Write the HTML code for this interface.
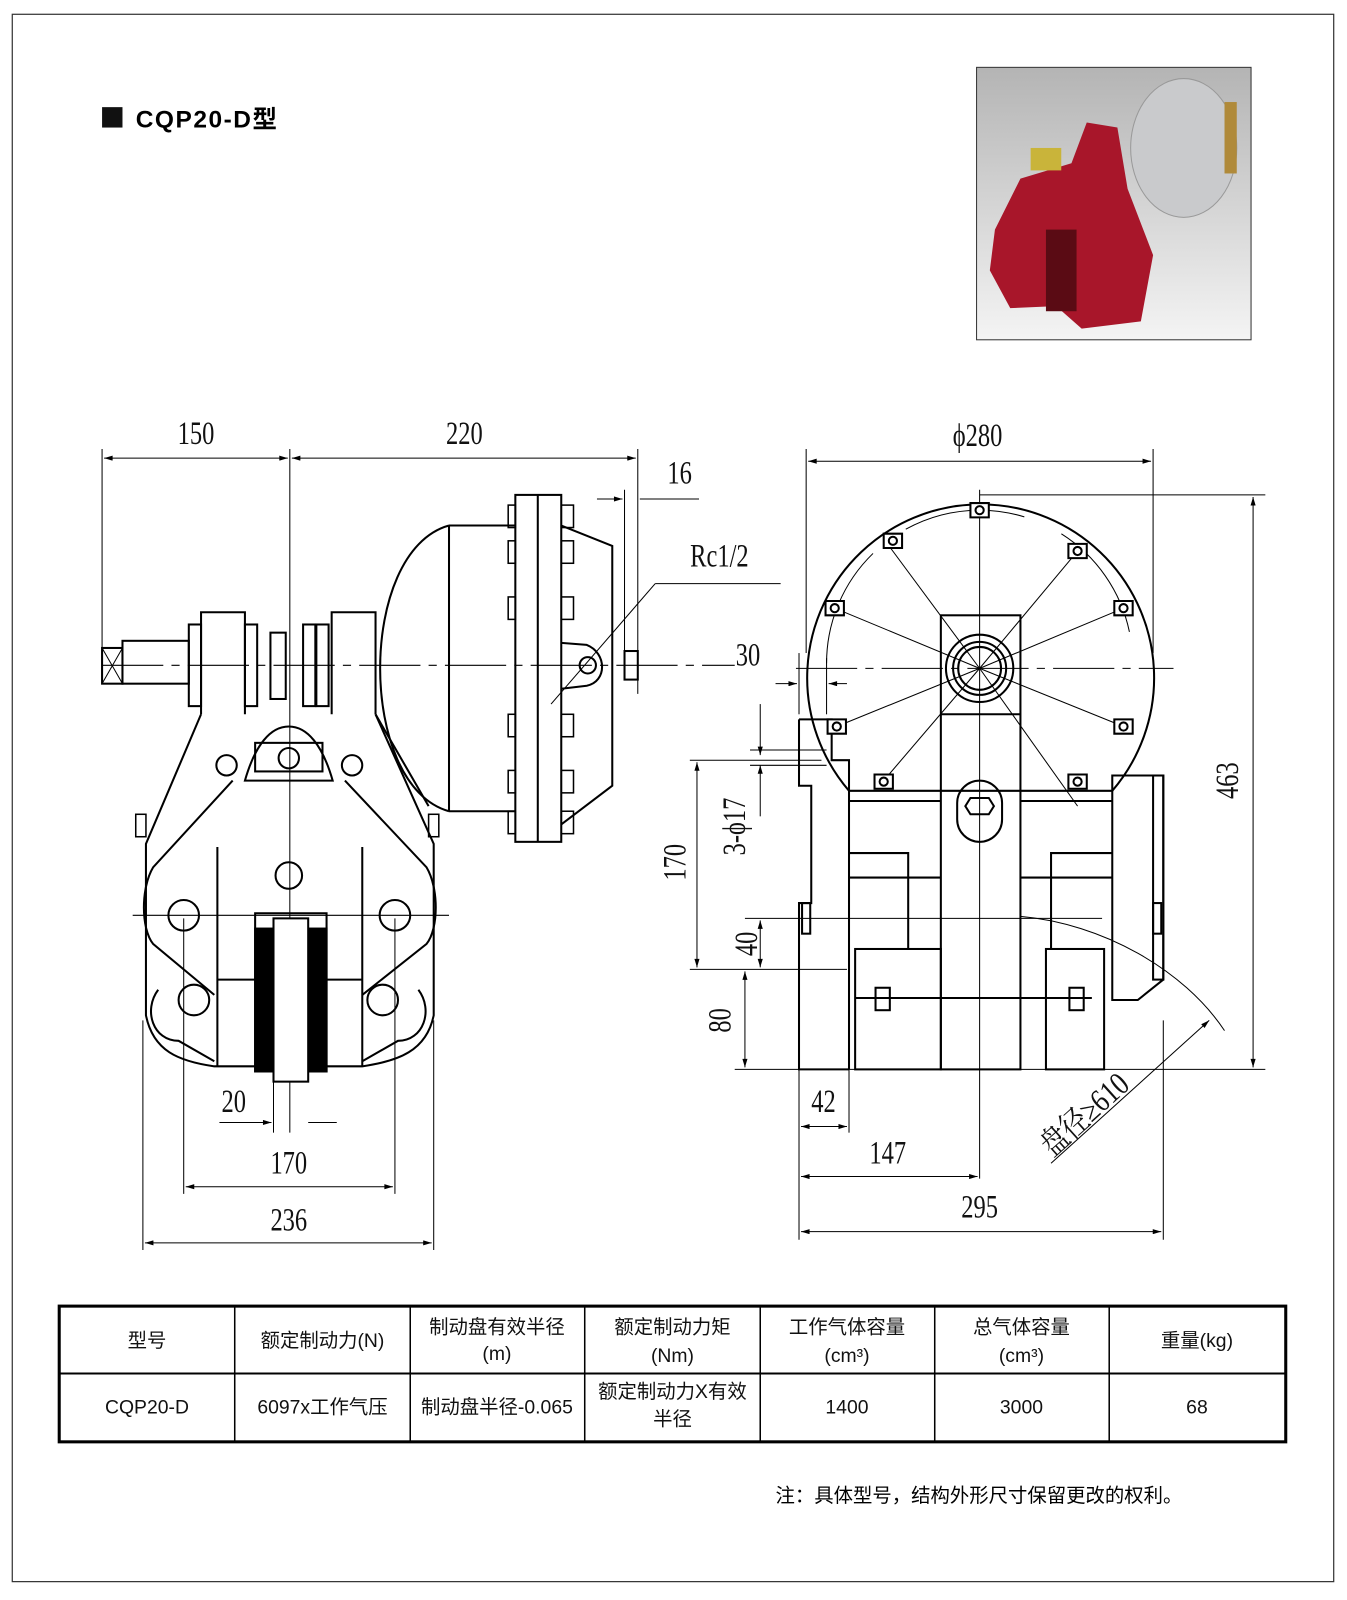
<!DOCTYPE html>
<html><head><meta charset="utf-8"><style>
html,body{margin:0;padding:0;background:#fff;}
svg{display:block}
.t{font-family:"Liberation Serif","Noto Serif CJK SC",serif;font-size:32px;fill:#111}
.tb{font-family:"Liberation Sans","Noto Sans CJK SC",sans-serif;font-size:19px;fill:#111;text-anchor:middle}
</style></head><body>
<svg width="1347" height="1600" viewBox="0 0 1320 1568" xmlns="http://www.w3.org/2000/svg">
<defs>
<marker id="a" viewBox="0 0 10 6" refX="10" refY="3" markerWidth="14" markerHeight="5" orient="auto-start-reverse" markerUnits="userSpaceOnUse"><path d="M0,0L10,3L0,6z" fill="#000"/></marker>
<linearGradient id="g" x1="0" y1="0" x2="0" y2="1"><stop offset="0" stop-color="#b4b4b4"/><stop offset="1" stop-color="#f4f4f4"/></linearGradient>
</defs>
<rect x="12" y="14" width="1295" height="1536" fill="none" stroke="#333" stroke-width="1.2"/>
<rect x="100" y="105" width="20" height="20" fill="#111"/>
<text x="133" y="125" style="font-family:'Liberation Sans','Noto Sans CJK SC',sans-serif;font-weight:bold;font-size:24px;letter-spacing:1.5px">CQP20-D型</text>
<!-- photo -->
<rect x="957" y="66" width="269" height="267" fill="url(#g)" stroke="#333"/>
<ellipse cx="1160" cy="145" rx="52" ry="68" fill="#c9cacc" stroke="#999"/>
<rect x="1200" y="100" width="12" height="70" fill="#b08a3a"/>
<path d="M975,225 L1000,175 L1050,160 L1065,120 L1095,125 L1105,185 L1130,250 L1118,315 L1060,322 L1035,300 L990,302 L970,265z" fill="#a8162a"/>
<rect x="1025" y="225" width="30" height="80" fill="#5a0b14"/>
<rect x="1010" y="145" width="30" height="22" fill="#c9b43a"/>
<!-- LEFT drawing -->
<g fill="none" stroke="#000" stroke-width="2">
<g stroke-width="1">
<line x1="100" y1="440" x2="100" y2="640"/><line x1="284" y1="440" x2="284" y2="1110"/><line x1="625" y1="440" x2="625" y2="680"/><line x1="612" y1="480" x2="612" y2="660"/>
<line x1="102" y1="449" x2="282" y2="449" marker-start="url(#a)" marker-end="url(#a)"/>
<line x1="286" y1="449" x2="623" y2="449" marker-start="url(#a)" marker-end="url(#a)"/>
<line x1="585" y1="489" x2="610" y2="489" marker-end="url(#a)"/><line x1="627" y1="489" x2="685" y2="489"/>
<line x1="100" y1="652" x2="720" y2="652" stroke-dasharray="60 8 8 8"/>
<line x1="130" y1="897" x2="440" y2="897"/>
<line x1="540" y1="690" x2="642" y2="572"/><line x1="642" y1="572" x2="765" y2="572"/>
<line x1="180" y1="900" x2="180" y2="1170"/><line x1="387" y1="900" x2="387" y2="1170"/>
<line x1="140" y1="1000" x2="140" y2="1225"/><line x1="425" y1="1000" x2="425" y2="1225"/>
<line x1="268" y1="1050" x2="268" y2="1110"/>
<line x1="215" y1="1100" x2="266" y2="1100" marker-end="url(#a)"/><line x1="302" y1="1100" x2="330" y2="1100"/>
<line x1="182" y1="1163" x2="385" y2="1163" marker-start="url(#a)" marker-end="url(#a)"/>
<line x1="142" y1="1218" x2="423" y2="1218" marker-start="url(#a)" marker-end="url(#a)"/>
</g>
<rect x="100" y="635" width="20" height="35"/><path d="M100,635L120,670M120,635L100,670" stroke-width="1"/>
<rect x="120" y="628" width="65" height="42"/>
<rect x="185" y="612" width="12" height="80"/><rect x="240" y="612" width="12" height="80"/>
<rect x="265" y="620" width="15" height="65"/>
<rect x="297" y="612" width="12" height="80"/><rect x="310" y="612" width="12" height="80"/>
<path d="M197,700V600H240V700 M325,700V600H368V700"/>
<path d="M440,515 C350,540 350,770 440,795" /><path d="M440,515H505M440,795H505M440,515V795M368,700 L420,790"/>
<rect x="505" y="485" width="45" height="340"/><line x1="527" y1="485" x2="527" y2="825"/>
<path d="M550,515 L600,535 L600,770 L550,808"/>
<path d="M550,630 L575,632 C595,640 595,668 575,672 L550,675"/>
<circle cx="576" cy="652" r="8"/><rect x="612" y="638" width="13" height="28"/>
<g stroke-width="1.5">
<rect x="498" y="495" width="7" height="22"/><rect x="550" y="495" width="12" height="22"/>
<rect x="498" y="530" width="7" height="22"/><rect x="550" y="530" width="12" height="22"/>
<rect x="498" y="585" width="7" height="22"/><rect x="550" y="585" width="12" height="22"/>
<rect x="498" y="700" width="7" height="22"/><rect x="550" y="700" width="12" height="22"/>
<rect x="498" y="755" width="7" height="22"/><rect x="550" y="755" width="12" height="22"/>
<rect x="498" y="795" width="7" height="22"/><rect x="550" y="795" width="12" height="22"/>
<rect x="133" y="798" width="10" height="22"/><rect x="420" y="798" width="10" height="22"/>
</g>
<path d="M197,700 L143,827 L143,995 C150,1030 175,1040 210,1045 L355,1045 C390,1040 418,1030 425,995 L425,827 L368,700"/>
<path d="M228,765 L150,850 C138,870 138,910 150,925 L210,975 M338,765 L418,850 C430,870 430,910 418,925 L355,975"/>
<path d="M240,765 C250,730 265,712 283,712 C301,712 316,730 326,765 Z"/>
<path d="M213,960 L355,960 M213,830 V1045 M355,830 V1045"/>
<path d="M155,970 C140,990 150,1020 175,1020 L210,1040 M410,970 C425,990 415,1020 390,1020 L355,1040"/>
<rect x="250" y="895" width="70" height="155"/>
<rect x="250" y="910" width="18" height="140" fill="#000"/><rect x="302" y="910" width="18" height="140" fill="#000"/>
<rect x="268" y="900" width="34" height="160" fill="#fff"/>
<circle cx="180" cy="897" r="15"/><circle cx="387" cy="897" r="15"/>
<circle cx="190" cy="980" r="15"/><circle cx="375" cy="980" r="15"/>
<circle cx="283" cy="858" r="13"/><circle cx="283" cy="743" r="10"/>
<circle cx="222" cy="750" r="10"/><circle cx="345" cy="750" r="10"/>
<rect x="250" y="728" width="66" height="28"/>
</g>
<text class="t" transform="translate(192 435) scale(0.75 1)" text-anchor="middle">150</text>
<text class="t" transform="translate(455 435) scale(0.75 1)" text-anchor="middle">220</text>
<text class="t" transform="translate(666 474) scale(0.75 1)" text-anchor="middle">16</text>
<text class="t" transform="translate(705 555) scale(0.75 1)" text-anchor="middle">Rc1/2</text>
<text class="t" transform="translate(229 1090) scale(0.75 1)" text-anchor="middle">20</text>
<text class="t" transform="translate(283 1150) scale(0.75 1)" text-anchor="middle">170</text>
<text class="t" transform="translate(283 1206) scale(0.75 1)" text-anchor="middle">236</text>
<!-- RIGHT drawing -->
<g fill="none" stroke="#000" stroke-width="2">
<g stroke-width="1">
<line x1="790" y1="440" x2="790" y2="640"/><line x1="1130" y1="440" x2="1130" y2="640"/>
<line x1="792" y1="452" x2="1128" y2="452" marker-start="url(#a)" marker-end="url(#a)"/>
<line x1="960" y1="480" x2="960" y2="1155"/>
<line x1="780" y1="655" x2="1150" y2="655" stroke-dasharray="60 8 8 8"/>
<line x1="960" y1="485" x2="1240" y2="485"/><line x1="1228" y1="487" x2="1228" y2="1046" marker-start="url(#a)" marker-end="url(#a)"/>
<line x1="720" y1="1048" x2="1240" y2="1048"/>
<line x1="676" y1="745" x2="805" y2="745"/><line x1="676" y1="950" x2="830" y2="950"/>
<line x1="683" y1="747" x2="683" y2="948" marker-start="url(#a)" marker-end="url(#a)"/>
<line x1="745" y1="690" x2="745" y2="740" marker-end="url(#a)"/><line x1="745" y1="750" x2="745" y2="800" marker-start="url(#a)"/>
<line x1="735" y1="735" x2="810" y2="735"/><line x1="735" y1="750" x2="810" y2="750"/>
<line x1="730" y1="900" x2="1080" y2="900"/>
<line x1="745" y1="902" x2="745" y2="948" marker-start="url(#a)" marker-end="url(#a)"/>
<line x1="730" y1="952" x2="730" y2="1046" marker-start="url(#a)" marker-end="url(#a)"/>
<line x1="783" y1="1048" x2="783" y2="1215"/><line x1="832" y1="1048" x2="832" y2="1110"/><line x1="1140" y1="1000" x2="1140" y2="1215"/>
<line x1="760" y1="670" x2="781" y2="670" marker-end="url(#a)"/><line x1="812" y1="670" x2="830" y2="670" marker-start="url(#a)"/>
<line x1="783" y1="640" x2="783" y2="700"/><line x1="810" y1="645" x2="810" y2="700"/>
<line x1="785" y1="1104" x2="830" y2="1104" marker-start="url(#a)" marker-end="url(#a)"/>
<line x1="785" y1="1153" x2="958" y2="1153" marker-start="url(#a)" marker-end="url(#a)"/>
<line x1="785" y1="1207" x2="1138" y2="1207" marker-start="url(#a)" marker-end="url(#a)"/>
<path d="M1000,898 C1080,905 1160,950 1200,1010"/>
<line x1="1185" y1="1000" x2="1030" y2="1140" marker-start="url(#a)"/>
<line x1="960" y1="655" x2="866" y2="528"/><line x1="960" y1="655" x2="1056" y2="540"/>
<line x1="960" y1="655" x2="818" y2="596"/><line x1="960" y1="655" x2="1101" y2="596"/>
<line x1="960" y1="655" x2="820" y2="712"/><line x1="960" y1="655" x2="1101" y2="712"/>
<line x1="960" y1="655" x2="866" y2="765"/><line x1="960" y1="655" x2="1056" y2="790"/>
</g>
<path d="M832,775 A170,170 0 1 1 1090,775"/>
<path d="M810,650 A150,150 0 0 1 1110,650" stroke-width="1" stroke-dasharray="120 40"/>
<rect x="922" y="603" width="78" height="445"/><line x1="922" y1="700" x2="1000" y2="700"/>
<circle cx="960" cy="655" r="33"/><circle cx="960" cy="655" r="26"/><circle cx="960" cy="655" r="21"/>
<rect x="938" y="765" width="44" height="60" rx="22"/>
<path d="M951,782h18l5,8l-5,8h-18l-5,-8z"/>
<path d="M783,705 H815 V745 H832 V1048 M783,705 V770 H795 V885 H783 V1048 H832"/>
<path d="M832,775 H1090 M832,785 H922 M1000,785 H1090"/>
<path d="M832,836 H890 V930 M832,860 H922 M1090,836 H1030 V930 M1000,860 H1090"/>
<rect x="838" y="930" width="84" height="118"/><rect x="1025" y="930" width="57" height="118"/>
<path d="M1090,760 H1140 V960 L1115,980 H1090 Z"/><rect x="1130" y="760" width="10" height="200"/>
<path d="M838,978 H1070" />
<rect x="786" y="885" width="8" height="30"/><rect x="1130" y="885" width="8" height="30"/>
<rect x="858" y="968" width="14" height="22"/><rect x="1048" y="968" width="14" height="22"/>
<g fill="#fff">
<g transform="translate(960 500)"><path d="M-9,-7h18l0,14h-18z" /><circle r="4"/></g>
<g transform="translate(875 530)"><path d="M-9,-7h18l0,14h-18z"/><circle r="4"/></g>
<g transform="translate(1056 540)"><path d="M-9,-7h18l0,14h-18z"/><circle r="4"/></g>
<g transform="translate(818 596)"><path d="M-9,-7h18l0,14h-18z"/><circle r="4"/></g>
<g transform="translate(1101 596)"><path d="M-9,-7h18l0,14h-18z"/><circle r="4"/></g>
<g transform="translate(820 712)"><path d="M-9,-7h18l0,14h-18z"/><circle r="4"/></g>
<g transform="translate(1101 712)"><path d="M-9,-7h18l0,14h-18z"/><circle r="4"/></g>
<g transform="translate(866 766)"><path d="M-9,-7h18l0,14h-18z"/><circle r="4"/></g>
<g transform="translate(1056 766)"><path d="M-9,-7h18l0,14h-18z"/><circle r="4"/></g>
</g>
</g>
<text class="t" transform="translate(958 437) scale(0.75 1)" text-anchor="middle">ϕ280</text>
<text class="t" transform="translate(733 652) scale(0.75 1)" text-anchor="middle">30</text>
<text class="t" transform="translate(1213 765) rotate(-90) scale(0.75 1)" text-anchor="middle">463</text>
<text class="t" transform="translate(672 845) rotate(-90) scale(0.75 1)" text-anchor="middle">170</text>
<text class="t" transform="translate(730 810) rotate(-90) scale(0.75 1)" text-anchor="middle">3-ϕ17</text>
<text class="t" transform="translate(742 925) rotate(-90) scale(0.75 1)" text-anchor="middle">40</text>
<text class="t" transform="translate(716 1000) rotate(-90) scale(0.75 1)" text-anchor="middle">80</text>
<text class="t" transform="translate(807 1090) scale(0.75 1)" text-anchor="middle">42</text>
<text class="t" transform="translate(870 1140) scale(0.75 1)" text-anchor="middle">147</text>
<text class="t" transform="translate(960 1193) scale(0.75 1)" text-anchor="middle">295</text>
<text class="t" transform="translate(1070 1100) rotate(-42) scale(0.8 1)" text-anchor="middle">盘径≥610</text>
<!-- table -->
<rect x="58" y="1280" width="1202" height="133" fill="none" stroke="#000" stroke-width="3"/>
<line x1="58" y1="1346" x2="1260" y2="1346" stroke="#000" stroke-width="2"/>
<g stroke="#000" stroke-width="1.5">
<line x1="230" y1="1280" x2="230" y2="1413"/><line x1="402" y1="1280" x2="402" y2="1413"/><line x1="573" y1="1280" x2="573" y2="1413"/>
<line x1="745" y1="1280" x2="745" y2="1413"/><line x1="916" y1="1280" x2="916" y2="1413"/><line x1="1087" y1="1280" x2="1087" y2="1413"/>
</g>
<text class="tb" x="144" y="1320">型号</text>
<text class="tb" x="316" y="1320">额定制动力(N)</text>
<text class="tb" x="487" y="1307">制动盘有效半径</text><text class="tb" x="487" y="1333">(m)</text>
<text class="tb" x="659" y="1307">额定制动力矩</text><text class="tb" x="659" y="1335">(Nm)</text>
<text class="tb" x="830" y="1307">工作气体容量</text><text class="tb" x="830" y="1335">(cm³)</text>
<text class="tb" x="1001" y="1307">总气体容量</text><text class="tb" x="1001" y="1335">(cm³)</text>
<text class="tb" x="1173" y="1320">重量(kg)</text>
<text class="tb" x="144" y="1385">CQP20-D</text>
<text class="tb" x="316" y="1385">6097x工作气压</text>
<text class="tb" x="487" y="1385">制动盘半径-0.065</text>
<text class="tb" x="659" y="1370">额定制动力X有效</text><text class="tb" x="659" y="1397">半径</text>
<text class="tb" x="830" y="1385">1400</text>
<text class="tb" x="1001" y="1385">3000</text>
<text class="tb" x="1173" y="1385">68</text>
<text x="760" y="1472" style="font-family:'Liberation Sans','Noto Sans CJK SC',sans-serif;font-size:19px">注：具体型号，结构外形尺寸保留更改的权利。</text>
</svg>
</body></html>
